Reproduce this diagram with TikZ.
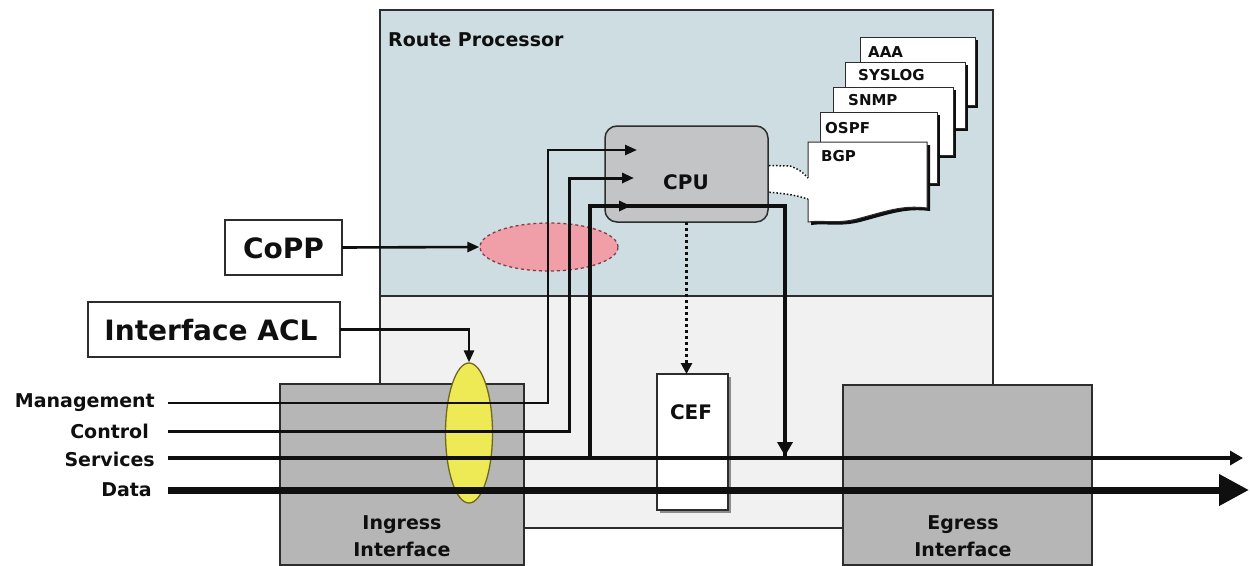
\documentclass[tikz,border=0pt]{standalone}
\usepackage{fontspec}
\setmainfont{DejaVu Sans}
\usetikzlibrary{arrows.meta,shapes.geometric,calc}
\definecolor{rpblue}{RGB}{205,221,225}
\definecolor{rpgray}{RGB}{241,241,241}
\definecolor{ifgray}{RGB}{182,182,182}
\definecolor{cpugray}{RGB}{194,196,198}
\definecolor{pinkfill}{RGB}{240,158,168}
\definecolor{pinkedge}{RGB}{130,60,70}
\definecolor{yelfill}{RGB}{238,234,86}
\definecolor{yeledge}{RGB}{110,105,30}
\definecolor{edge}{RGB}{45,45,45}
\definecolor{ink}{RGB}{15,15,15}
\begin{document}
\begin{tikzpicture}[x=1pt,y=-1pt,
  box/.style={draw=edge,line width=1.5pt,inner sep=0pt,outer sep=0pt},
  lbl/.style={font=\bfseries\fontsize{19}{27}\selectfont,inner sep=0pt,text=ink},
  biglbl/.style={font=\bfseries\fontsize{28}{30}\selectfont,inner sep=0pt,text=ink},
  pglbl/.style={font=\bfseries\fontsize{15}{17}\selectfont,inner sep=0pt,text=ink,anchor=west},
  page/.style={draw=edge,fill=white,line width=1pt,inner sep=0pt,outer sep=0pt,anchor=north west},
  shadowfill/.style={fill=ink},
  tipS/.style={-{Triangle[length=12pt,width=10pt]}},
  mgmt/.style={draw=ink,line width=2.4pt},
  ctrl/.style={draw=ink,line width=3pt},
  svc/.style={draw=ink,line width=3.4pt},
  svcup/.style={draw=ink,line width=4.5pt},
  dataline/.style={draw=ink,line width=7pt}
]
\useasboundingbox (0,0) rectangle (1250,565);
\fill[white] (0,0) rectangle (1250,565);

% Route processor area
\node[box,fill=rpblue,minimum width=613pt,minimum height=286pt] (rptop) at (686.5,153) {};
\node[box,fill=rpgray,minimum width=613pt,minimum height=232pt] (rpbot) at (686.5,412) {};
\node[lbl,anchor=west] (rptitle) at (388,40) {Route Processor};

% pages (shadow first, then page)
\fill[shadowfill] (863,40) rectangle (978,108);
\node[page,minimum width=115pt,minimum height=68pt] (aaa) at (860,37) {};
\node[pglbl] (aaat) at ($(aaa.north west)+(8,15)$) {AAA};
\fill[shadowfill] (848,65) rectangle (968,131);
\node[page,minimum width=120pt,minimum height=66pt] (syslog) at (845,62) {};
\node[pglbl] (syslogt) at ($(syslog.north west)+(13,13)$) {SYSLOG};
\fill[shadowfill] (836,90) rectangle (956,158);
\node[page,minimum width=120pt,minimum height=68pt] (snmp) at (833,87) {};
\node[pglbl] (snmpt) at ($(snmp.north west)+(15,13)$) {SNMP};
\fill[shadowfill] (823,115) rectangle (940,186);
\node[page,minimum width=117pt,minimum height=71pt] (ospf) at (820,112) {};
\node[pglbl] (ospft) at ($(ospf.north west)+(5,16)$) {OSPF};
\fill[shadowfill] (811,145) -- (930,145) -- (930,211) .. controls (905,208) and (890,214) .. (860,222) .. controls (840,227) and (825,223) .. (811,225) -- cycle;
\draw[draw=edge,fill=white,line width=1pt] (808,142) -- (927,142) -- (927,208) .. controls (902,205) and (887,211) .. (857,219) .. controls (837,224) and (822,220) .. (808,222) -- cycle;
\coordinate (bgp) at (808,142);
\node[pglbl] (bgpt) at ($(bgp)+(13,14)$) {BGP};

% white tab between CPU and BGP page
\fill[white] (745,165) -- (790,166) .. controls (800,170) .. (809,178) -- (809,199) .. controls (790,194) .. (745,190) -- cycle;
\draw[ink,line width=1.5pt,dotted] (745,190) -- (745,165) -- (790,166) .. controls (800,170) .. (808,178);
\draw[ink,line width=1.5pt,dotted] (745,190) .. controls (790,194) .. (808,199);

% CPU
\node[box,fill=cpugray,rounded corners=12pt,minimum width=163pt,minimum height=96pt] (cpu) at (686.5,174) {};
\node[lbl,font=\bfseries\fontsize{20}{22}\selectfont] (cput) at (686,182) {CPU};

% CEF
\fill[black!45] (660,377) rectangle (731,513);
\node[box,fill=white,minimum width=71pt,minimum height=136pt] (cef) at (692.5,442) {};
\node[lbl,font=\bfseries\fontsize{20}{22}\selectfont] (ceft) at (691,412) {CEF};

% interfaces
\node[box,fill=ifgray,minimum width=244pt,minimum height=181pt] (ingress) at (402,474.5) {};
\node[box,fill=ifgray,minimum width=249pt,minimum height=180pt] (egress) at (967.5,475) {};
\node[lbl,align=center] (ingt) at (402,536) {Ingress\\Interface};
\node[lbl,align=center] (egt) at (963,536) {Egress\\Interface};

% policers
\node[ellipse,draw=pinkedge,dashed,line width=1.3pt,fill=pinkfill,minimum width=138pt,minimum height=48pt,inner sep=0pt] (pink) at (549,247) {};
\node[ellipse,draw=yeledge,line width=1.3pt,fill=yelfill,minimum width=47pt,minimum height=140pt,inner sep=0pt] (yel) at (469,433) {};

% CoPP & ACL boxes
\node[box,fill=white,minimum width=117pt,minimum height=55pt] (copp) at (283.5,247.5) {};
\node[biglbl] (coppt) at (283.5,248) {CoPP};
\node[box,fill=white,minimum width=252pt,minimum height=55pt] (acl) at (214,329.5) {};
\node[biglbl] (aclt) at (211,330) {Interface ACL};
\draw[ink,line width=2.6pt,tipS] (copp.east) -- (pink.west);
\draw[ink,line width=2.6pt,tipS] (acl.east) -| (yel.north);

% traffic lines
\coordinate (mS) at (168,403);
\coordinate (cS) at (168,431);
\coordinate (sS) at (168,458);
\coordinate (dS) at (168,490);
\coordinate (sE) at (1243,458);
\coordinate (dE) at (1249,490);
\coordinate (mB) at (548,150);
\coordinate (cB) at (569,178);
\coordinate (sJ) at (590,458);
\coordinate (sB) at (590,206);
\coordinate (sR) at (785,206);
\coordinate (sD) at (785,456);
\coordinate (cpuM) at (637,150);
\coordinate (cpuC) at (634,178);
\coordinate (cpuS) at (631,206);

\draw[mgmt,tipS] (mS) -| (mB) -- (cpuM);
\draw[ctrl,tipS] (cS) -| (cB) -- (cpuC);
\draw[svcup] (sJ) -- (sB) -- (sR) -- (sD);
\draw[ink,line width=4.5pt,-{Triangle[length=14pt,width=15pt]}] (sR) -- (sD);
\draw[ink,line width=4.5pt,tipS] (sB) -- (cpuS);
\draw[svc,-{Triangle[length=13pt,width=14pt]}] (sS) -- (sE);
\draw[dataline,-{Triangle[length=30pt,width=30pt]}] (dS) -- (dE);

% CPU to CEF dotted
\draw[ink,line width=3pt,dash pattern=on 3pt off 3pt,-{Triangle[length=11pt,width=11pt]}] (cpu.south) -- (cpu.south |- cef.north);

% traffic labels
\node[lbl,anchor=east] (mL) at (155,403) {Management};
\node[lbl,anchor=east] (cL) at (149,431) {Control};
\node[lbl,anchor=east] (sL) at (155,459) {Services};
\node[lbl,anchor=east] (dL) at (152,490) {Data};
\end{tikzpicture}
\end{document}
